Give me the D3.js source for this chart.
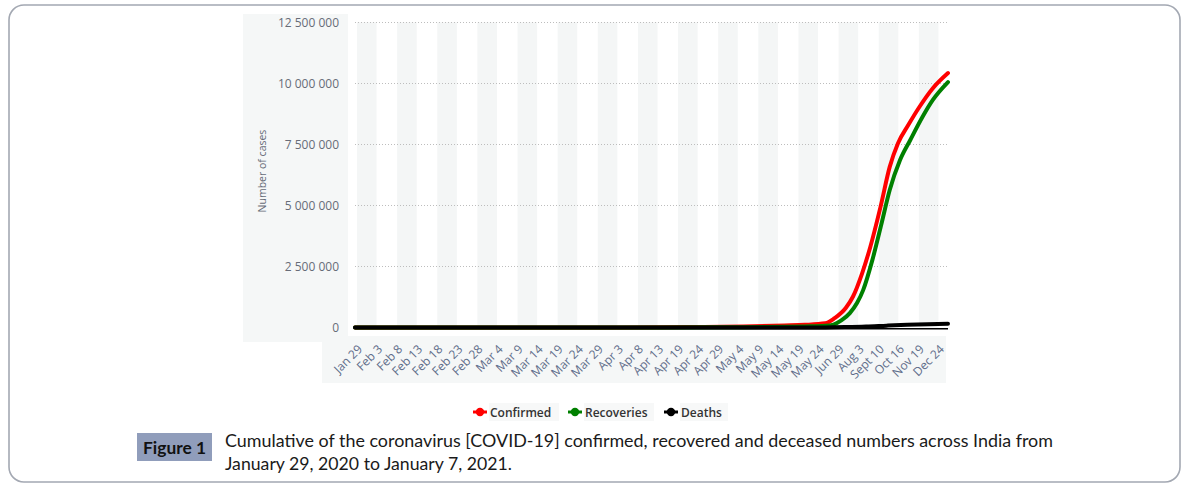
<!DOCTYPE html>
<html>
<head>
<meta charset="utf-8">
<script src="https://cdn.jsdelivr.net/npm/d3@7/dist/d3.min.js"></script>
<style>
  html, body { margin: 0; padding: 0; background: #fff; }
  svg { display: block; }
</style>
</head>
<body>
<svg id="chart" width="1185" height="490"></svg>
<script>
// ---------- DATA ----------
const categories = ["Jan 29","Feb 3","Feb 8","Feb 13","Feb 18","Feb 23","Feb 28","Mar 4","Mar 9","Mar 14","Mar 19","Mar 24","Mar 29","Apr 3","Apr 8","Apr 13","Apr 19","Apr 24","Apr 29","May 4","May 9","May 14","May 19","May 24","Jun 29","Aug 3","Sept 10","Oct 16","Nov 19","Dec 24"];
const yTicks = [0, 2500000, 5000000, 7500000, 10000000, 12500000];

// positions along the category axis (index units) and values (cases)
const confirmedPos = [0, 12, 13, 15, 17, 19, 21, 22, 23, 23.45, 24, 24.35, 24.8, 25.2, 25.7, 26.15, 26.55, 27.05, 27.6, 28.25, 29];
const confirmedVal = [0, 1000, 2500, 10000, 24000, 46000, 85000, 110000, 170000, 380000, 800000, 1260000, 2220000, 3300000, 4940000, 6580000, 7540000, 8280000, 9030000, 9790000, 10420000];

const recoveredPos = [0, 15, 19, 21, 22, 23, 23.4, 23.8, 24.2, 24.55, 24.85, 25.3, 25.75, 26.15, 26.65, 27.15, 27.75, 28.25, 29];
const recoveredVal = [0, 1000, 12000, 30000, 45000, 70000, 120000, 300000, 590000, 1000000, 1530000, 2760000, 4260000, 5630000, 6850000, 7670000, 8620000, 9310000, 10050000];

const deathsPos = [0, 19, 23, 24, 25, 26, 27, 28, 29];
const deathsVal = [0, 1500, 4000, 16000, 38000, 76000, 110000, 135000, 155000];

const seriesNames = ["Confirmed", "Recoveries", "Deaths"];
const seriesColors = ["#ff0000", "#008000", "#000000"];

const captionLabel = "Figure 1";
const captionLines = [
  "Cumulative of the coronavirus [COVID-19] confirmed, recovered and deceased numbers across India from",
  "January 29, 2020 to January 7, 2021."
];

// ---------- DRAW ----------
const svg = d3.select("#chart");
const font = "'Open Sans', 'DejaVu Sans', sans-serif";

// outer frame
svg.append("rect")
  .attr("x", 9).attr("y", 5).attr("width", 1171).attr("height", 477)
  .attr("rx", 15).attr("ry", 15)
  .attr("fill", "#fff").attr("stroke", "#a3a8b2").attr("stroke-width", 1.6);

// chart background panels
svg.append("rect").attr("x", 243).attr("y", 14).attr("width", 105).attr("height", 328).attr("fill", "#f5f7f7");
svg.append("rect").attr("x", 322).attr("y", 336).attr("width", 624).attr("height", 47).attr("fill", "#f5f7f7");
svg.append("rect").attr("x", 348).attr("y", 14).attr("width", 612).attr("height", 322).attr("fill", "#ffffff");

const plotTop = 22.3, plotBottom = 327.5;
const xBand = d3.scaleBand().domain(categories).range([357, 959]).padding(0);
const xLine = d3.scaleLinear().domain([0, categories.length - 1]).range([355, 948]);
const y = d3.scaleLinear().domain([0, 12500000]).range([plotBottom, plotTop]);

// alternating bands
svg.append("g").selectAll("rect")
  .data(categories.filter((d, i) => i % 2 === 0))
  .join("rect")
  .attr("x", d => xBand(d))
  .attr("y", plotTop)
  .attr("width", xBand.bandwidth() - 0.5)
  .attr("height", plotBottom - plotTop)
  .attr("fill", "#f4f6f6");

// gridlines
svg.append("g").selectAll("line")
  .data(yTicks.filter(v => v > 0))
  .join("line")
  .attr("x1", 355).attr("x2", 948)
  .attr("y1", d => Math.round(y(d)) + 0.5).attr("y2", d => Math.round(y(d)) + 0.5)
  .attr("stroke", "#bdbdbd").attr("stroke-width", 1).attr("stroke-dasharray", "1,2");

// y axis labels
const fmt = v => d3.format(",")(v).replace(/,/g, " ");
const yAxis = d3.axisLeft(y).tickValues(yTicks).tickFormat(fmt).tickSize(0).tickPadding(0);
const yg = svg.append("g").attr("transform", "translate(339,0)").call(yAxis);
yg.select(".domain").remove();
yg.selectAll("text")
  .attr("fill", "#676c78").style("font-family", font).style("font-size", "12px");

// y title
svg.append("text")
  .attr("transform", "translate(266,171) rotate(-90)")
  .attr("text-anchor", "middle")
  .style("font-family", font).style("font-size", "10.5px")
  .attr("fill", "#676c78")
  .text("Number of cases");

// x axis labels
svg.append("g").selectAll("text")
  .data(categories)
  .join("text")
  .attr("transform", d => `translate(${xBand(d) + xBand.bandwidth() / 2 - 4},350) rotate(-45)`)
  .attr("text-anchor", "end")
  .style("font-family", font).style("font-size", "12px")
  .attr("fill", "#5f6d8a")
  .text(d => d);

// x axis baseline
svg.append("line")
  .attr("x1", 355).attr("x2", 948).attr("y1", 328.8).attr("y2", 328.8)
  .attr("stroke", "#000").attr("stroke-width", 1.6);

// lines
const line = d3.line().x(d => xLine(d[0])).y(d => y(d[1])).curve(d3.curveMonotoneX);
const seriesData = [
  d3.zip(confirmedPos, confirmedVal),
  d3.zip(recoveredPos, recoveredVal),
  d3.zip(deathsPos, deathsVal)
];
svg.append("g").selectAll("path")
  .data(seriesData)
  .join("path")
  .attr("d", line)
  .attr("fill", "none")
  .attr("stroke", (d, i) => seriesColors[i])
  .attr("stroke-width", 4)
  .attr("stroke-linecap", "round")
  .attr("stroke-linejoin", "round");

// legend
const legendX = [481, 576, 672];
const lg = svg.append("g").selectAll("g")
  .data(seriesNames)
  .join("g")
  .attr("transform", (d, i) => `translate(${legendX[i]},412)`);
lg.append("rect")
  .attr("x", 8).attr("y", -9).attr("width", (d, i) => [70, 70, 48][i]).attr("height", 18)
  .attr("fill", "#f7f8f8");
lg.append("line")
  .attr("x1", -8).attr("x2", 6).attr("y1", 0).attr("y2", 0)
  .attr("stroke", (d, i) => seriesColors[i]).attr("stroke-width", 3);
lg.append("circle")
  .attr("cx", -1).attr("cy", 0).attr("r", 4.2)
  .attr("fill", (d, i) => seriesColors[i]);
lg.append("text")
  .attr("x", 9).attr("y", 4.5)
  .style("font-family", font).style("font-size", "12px").style("font-weight", 600)
  .attr("fill", "#333")
  .text(d => d);

// caption
svg.append("rect")
  .attr("x", 137).attr("y", 433).attr("width", 75).attr("height", 28)
  .attr("fill", "#909dbb");
svg.append("text")
  .attr("x", 143).attr("y", 453.5)
  .attr("textLength", 63).attr("lengthAdjust", "spacingAndGlyphs")
  .style("font-family", "Lato, 'Open Sans', sans-serif").style("font-size", "17px").style("font-weight", 700)
  .attr("fill", "#111")
  .text(captionLabel);
svg.append("g").selectAll("text")
  .data(captionLines)
  .join("text")
  .attr("x", 225)
  .attr("y", (d, i) => 447 + i * 23)
  .attr("textLength", (d, i) => [828, 287][i])
  .attr("lengthAdjust", "spacingAndGlyphs")
  .style("font-family", "Lato, 'Open Sans', sans-serif").style("font-size", "17.5px")
  .attr("fill", "#1a1a1a")
  .text(d => d);
</script>
</body>
</html>
